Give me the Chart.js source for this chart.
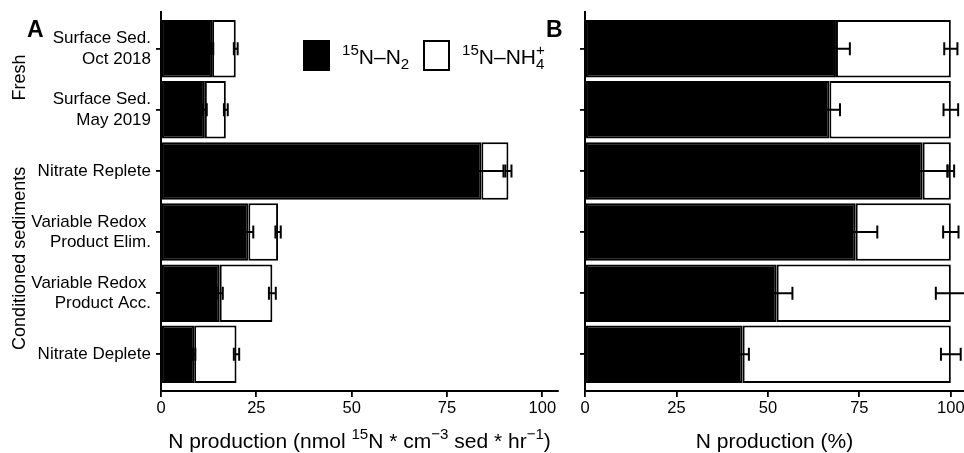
<!DOCTYPE html>
<html>
<head>
<meta charset="utf-8">
<script src="https://cdn.jsdelivr.net/npm/chart.js@4/dist/chart.umd.min.js"></script>
<style>
html, body { margin: 0; padding: 0; background: #fff; overflow: hidden; }
#wrapA { position: absolute; left: 0; top: 0; }
#wrapB { position: absolute; left: 565px; top: 0; }
</style>
</head>
<body>
<div id="wrapA"><canvas id="panelA" width="565" height="453"></canvas></div>
<div id="wrapB"><canvas id="panelB" width="399" height="453"></canvas></div>
<script>
const FONT = '"Liberation Sans", Arial, Helvetica, sans-serif';

// sample names, top to bottom
const categories = [
    ['Surface Sed.', 'Oct 2018'],
    ['Surface Sed.', 'May 2019'],
    'Nitrate Replete',
    ['Variable Redox ', 'Product Elim.'],
    ['Variable Redox ', 'Product Acc.'],
    'Nitrate Deplete'
];
const groupNames = ['Fresh', 'Conditioned sediments'];

// panel A: rates (nmol 15N cm-3 sed hr-1)
const n2Rate    = [13.4, 11.5, 84.0, 22.9, 15.4, 8.7];
const nh4Rate   = [6.2, 5.5, 7.1, 7.8, 13.8, 11.1];
const n2RateSd  = [0.3, 0.5, 5.8, 1.3, 0.8, 0.3];
const totRateSd = [0.5, 0.5, 0.8, 0.7, 0.9, 0.7];

// panel B: share of production (%)
const n2Pct    = [68.6, 66.8, 92.3, 74.0, 52.4, 43.1];
const nh4Pct   = [31.4, 33.2, 7.7, 26.0, 47.6, 56.9];
const n2PctSd  = [3.8, 2.9, 6.8, 5.9, 4.3, 1.7];
const totPctSd = [1.8, 2.0, 0.9, 2.1, 4.1, 2.7];

const xTicks = [0, 25, 50, 75, 100];

Chart.defaults.font.family = FONT;
Chart.defaults.color = '#000';

function richText(ctx, parts, x, y, size, align) {
    const small = size * 0.72;
    const w = parts.map(p => {
        if (p.t !== undefined) {
            ctx.font = size + 'px ' + FONT;
            return ctx.measureText(p.t).width;
        }
        ctx.font = small + 'px ' + FONT;
        return Math.max(ctx.measureText(p.sup || '').width, ctx.measureText(p.sub || '').width);
    });
    let cx = align === 'center' ? x - w.reduce((a, b) => a + b, 0) / 2 : x;
    ctx.textAlign = 'left';
    ctx.textBaseline = 'alphabetic';
    ctx.fillStyle = '#000';
    parts.forEach((p, i) => {
        if (p.t !== undefined) {
            ctx.font = size + 'px ' + FONT;
            ctx.fillText(p.t, cx, y);
        } else {
            ctx.font = small + 'px ' + FONT;
            if (p.sup) ctx.fillText(p.sup, cx, y - size * 0.42);
            if (p.sub) ctx.fillText(p.sub, cx, y + size * 0.22);
        }
        cx += w[i];
    });
}

const errorBars = {
    id: 'errorBars',
    afterDatasetsDraw(chart, args, opts) {
        const ctx = chart.ctx;
        const x = chart.scales.x, y = chart.scales.y;
        const cap = 6.5;
        ctx.save();
        ctx.strokeStyle = '#000';
        ctx.lineWidth = 2;
        opts.sets.forEach(s => {
            s.mean.forEach((m, i) => {
                const py = y.getPixelForValue(i);
                const x0 = x.getPixelForValue(m - s.sd[i]);
                const x1 = x.getPixelForValue(m + s.sd[i]);
                ctx.beginPath();
                ctx.moveTo(x0, py); ctx.lineTo(x1, py);
                ctx.moveTo(x0, py - cap); ctx.lineTo(x0, py + cap);
                ctx.moveTo(x1, py - cap); ctx.lineTo(x1, py + cap);
                ctx.stroke();
            });
        });
        ctx.restore();
    }
};

const decorations = {
    id: 'decorations',
    afterDraw(chart, args, opts) {
        const ctx = chart.ctx;
        const area = chart.chartArea;
        ctx.save();
        richText(ctx, opts.xTitle, (area.left + area.right) / 2, 448, 21, 'center');

        if (opts.panelA) {
            const y = chart.scales.y;
            // panel letters
            ctx.fillStyle = '#000';
            ctx.font = 'bold 23px ' + FONT;
            ctx.textAlign = 'left';
            ctx.textBaseline = 'alphabetic';
            ctx.fillText('A', 27, 37);
            ctx.fillText('B', 546, 37);

            // group labels
            ctx.font = '18px ' + FONT;
            ctx.textAlign = 'center';
            [[0.47, groupNames[0]], [3.43, groupNames[1]]].forEach(g => {
                ctx.save();
                ctx.translate(25, y.getPixelForValue(g[0]));
                ctx.rotate(-Math.PI / 2);
                ctx.fillText(g[1], 0, 0);
                ctx.restore();
            });

            // legend
            ctx.fillStyle = '#000';
            ctx.fillRect(303, 40, 27, 31);
            ctx.fillStyle = '#fff';
            ctx.fillRect(424, 41, 25, 29);
            ctx.strokeStyle = '#000';
            ctx.lineWidth = 2;
            ctx.strokeRect(424, 41, 25, 29);
            richText(ctx, [{sup: '15'}, {t: 'N\u2013N'}, {sub: '2'}], 342, 64, 21, 'left');
            richText(ctx, [{sup: '15'}, {t: 'N\u2013NH'}, {sup: '+', sub: '4'}], 462, 64, 21, 'left');
        }
        ctx.restore();
    }
};

function makeChart(id, n2, nh4, n2Sd, totSd, xMax, yWidth, padRight, xTitle, panelA) {
    const tot = n2.map((v, i) => v + nh4[i]);
    return new Chart(document.getElementById(id), {
        type: 'bar',
        data: {
            datasets: [
                {
                    label: '15N-N2',
                    data: n2.map((v, i) => ({x: v, y: i})),
                    backgroundColor: '#000',
                    borderColor: '#000',
                    borderWidth: 2,
                    borderSkipped: false
                },
                {
                    label: '15N-NH4+',
                    data: nh4.map((v, i) => ({x: v, y: i})),
                    backgroundColor: '#fff',
                    borderColor: '#000',
                    borderWidth: 2,
                    borderSkipped: false
                }
            ]
        },
        options: {
            indexAxis: 'y',
            responsive: false,
            animation: false,
            barPercentage: 0.94,
            categoryPercentage: 1,
            layout: { padding: { top: 12, right: padRight, left: 0, bottom: 0 } },
            plugins: {
                legend: { display: false },
                tooltip: { enabled: false },
                errorBars: { sets: [ {mean: n2, sd: n2Sd}, {mean: tot, sd: totSd} ] },
                decorations: { xTitle: xTitle, panelA: panelA }
            },
            scales: {
                x: {
                    type: 'linear',
                    min: 0,
                    max: xMax,
                    stacked: true,
                    afterBuildTicks: s => { s.ticks = xTicks.map(v => ({value: v})); },
                    afterFit: s => { s.height = 62; s.paddingLeft = 0; s.paddingRight = 0; },
                    ticks: { font: { size: 16.5 }, color: '#000', padding: 2, maxRotation: 0, autoSkip: false },
                    grid: { drawOnChartArea: false, drawTicks: true, tickLength: 6, color: '#000', lineWidth: 1.8 },
                    border: { display: true, color: '#000', width: 2 }
                },
                y: {
                    type: 'linear',
                    reverse: true,
                    min: -0.6,
                    max: 5.6,
                    offset: false,
                    stacked: true,
                    afterBuildTicks: s => { s.ticks = categories.map((c, i) => ({value: i})); },
                    afterFit: s => { s.width = yWidth; s.paddingTop = 0; s.paddingBottom = 0; },
                    ticks: {
                        font: { size: 17 },
                        color: '#000',
                        padding: 5,
                        autoSkip: false,
                        callback: v => panelA ? categories[v] : ''
                    },
                    grid: { offset: false, drawOnChartArea: false, drawTicks: true, tickLength: 5, color: '#000', lineWidth: 1.8 },
                    border: { display: true, color: '#000', width: 2 }
                }
            }
        },
        plugins: [errorBars, decorations]
    });
}

makeChart('panelA', n2Rate, nh4Rate, n2RateSd, totRateSd, 104.1, 161, 7,
    [{t: 'N production (nmol '}, {sup: '15'}, {t: 'N * cm'}, {sup: '\u22123'}, {t: ' sed * hr'}, {sup: '\u22121'}, {t: ')'}],
    true);
makeChart('panelB', n2Pct, nh4Pct, n2PctSd, totPctSd, 103.6, 20, 0,
    [{t: 'N production (%)'}],
    false);
</script>
</body>
</html>
